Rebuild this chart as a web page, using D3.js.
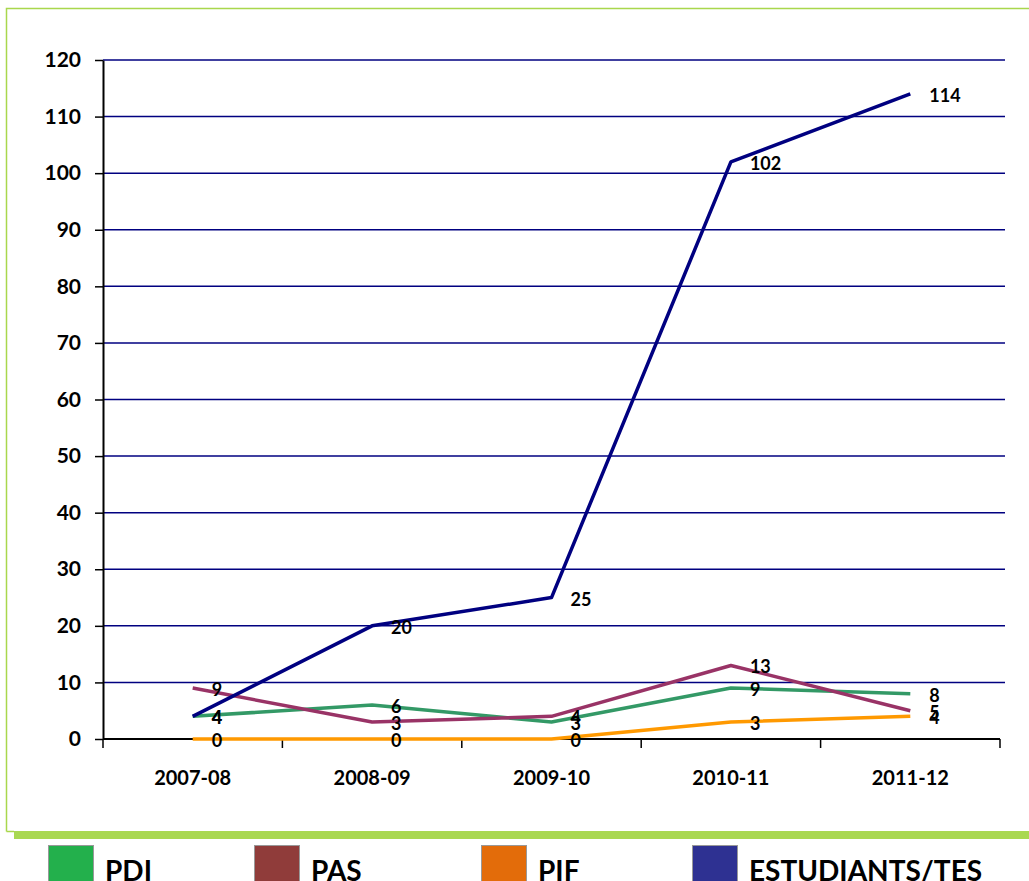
<!DOCTYPE html>
<html>
  <head>
    <meta charset="utf-8" />
    <script src="https://d3js.org/d3.v7.min.js"></script>
    <style>
      body { margin: 0; background: #fff; }
      svg { display: block; font-family: Lato, "Open Sans", sans-serif; font-weight: bold; }
    </style>
  </head>
  <body>
    <svg></svg>
    <script>
      // data
      var years = ["2007-08", "2008-09", "2009-10", "2010-11", "2011-12"];
      var pdi = [4, 6, 3, 9, 8];
      var pas = [9, 3, 4, 13, 5];
      var pif = [0, 0, 0, 3, 4];
      var estudiants = [4, 20, 25, 102, 114];
      var yTicks = [0, 10, 20, 30, 40, 50, 60, 70, 80, 90, 100, 110, 120];
      var seriesNames = ["PDI", "PAS", "PIF", "ESTUDIANTS/TES"];

      var lineColors = ["#339966", "#993366", "#ff9900", "#000080"];
      var legendColors = ["#23b04c", "#903c3a", "#e36c0a", "#2e3192"];
      var series = [pdi, pas, pif, estudiants];

      var svg = d3.select("svg").attr("width", 1029).attr("height", 881);

      // frame
      svg.append("path")
        .attr("d", "M6.5,831.5 V8.5 H1029")
        .attr("fill", "none")
        .attr("stroke", "#a9d74c")
        .attr("stroke-width", 1.5);
      svg.append("path")
        .attr("d", "M6.5,831.5 H14")
        .attr("stroke", "#a9d74c")
        .attr("stroke-width", 1.5);
      svg.append("rect")
        .attr("x", 14).attr("y", 831).attr("width", 1015).attr("height", 8)
        .attr("fill", "#a9d851");

      var x = d3.scaleBand().domain(years).range([103, 1000]);
      var y = d3.scaleLinear().domain([0, 120]).range([739, 60]);
      var cx = function (i) { return x(years[i]) + x.bandwidth() / 2; };

      // gridlines
      svg.append("g")
        .selectAll("line")
        .data(yTicks.filter(function (d) { return d > 0; }))
        .join("line")
        .attr("x1", 103).attr("x2", 1005)
        .attr("y1", function (d) { return y(d); })
        .attr("y2", function (d) { return y(d); })
        .attr("stroke", "#000080")
        .attr("stroke-width", 1.5);

      // y axis
      var gy = svg.append("g")
        .attr("transform", "translate(103,0)")
        .call(d3.axisLeft(y).tickValues(yTicks).tickSize(8).tickPadding(14).tickSizeOuter(0));
      gy.select(".domain").attr("stroke", "#000").attr("stroke-width", 2);
      gy.selectAll(".tick line").attr("stroke", "#000").attr("stroke-width", 1.5);
      gy.selectAll("text")
        .attr("font-family", "Lato, sans-serif")
        .attr("font-weight", "bold")
        .attr("font-size", 21)
        .attr("fill", "#000");

      // x axis
      var gx = svg.append("g");
      gx.append("line")
        .attr("x1", 103).attr("x2", 1000)
        .attr("y1", y(0)).attr("y2", y(0))
        .attr("stroke", "#000").attr("stroke-width", 2);
      gx.selectAll(".xtick")
        .data(years.map(function (d) { return x(d); }).concat([x.range()[1]]))
        .join("line")
        .attr("class", "xtick")
        .attr("x1", function (d) { return d; })
        .attr("x2", function (d) { return d; })
        .attr("y1", y(0)).attr("y2", y(0) + 9)
        .attr("stroke", "#000").attr("stroke-width", 1.5);
      gx.selectAll(".xlab")
        .data(years)
        .join("text")
        .attr("class", "xlab")
        .attr("x", function (d, i) { return cx(i); })
        .attr("y", 785)
        .attr("text-anchor", "middle")
        .attr("font-size", 20)
        .text(function (d) { return d; });

      // lines
      var line = d3.line()
        .x(function (d, i) { return cx(i); })
        .y(function (d) { return y(d); });
      svg.append("g")
        .selectAll("path")
        .data(series)
        .join("path")
        .attr("d", line)
        .attr("fill", "none")
        .attr("stroke", function (d, i) { return lineColors[i]; })
        .attr("stroke-width", 3.5)
        .attr("stroke-linejoin", "round");

      // data labels
      var labels = svg.append("g");
      series.forEach(function (s) {
        labels.selectAll(null)
          .data(s)
          .join("text")
          .attr("x", function (d, i) { return cx(i) + 19; })
          .attr("y", function (d) { return y(d) + 8; })
          .attr("font-size", 18)
          .attr("fill", "#000")
          .text(function (d) { return d; });
      });

      // legend
      var legendX = [48, 254, 481, 692];
      var lg = svg.append("g")
        .selectAll("g")
        .data(seriesNames)
        .join("g")
        .attr("transform", function (d, i) { return "translate(" + legendX[i] + ",845)"; });
      lg.append("rect")
        .attr("x", 0.5).attr("y", 0.5).attr("width", 45).attr("height", 45)
        .attr("fill", function (d, i) { return legendColors[i]; })
        .attr("stroke", "#999");
      lg.append("text")
        .attr("x", 57)
        .attr("y", 36)
        .attr("font-size", 28)
        .attr("fill", "#000")
        .text(function (d) { return d; });
    </script>
  </body>
</html>
